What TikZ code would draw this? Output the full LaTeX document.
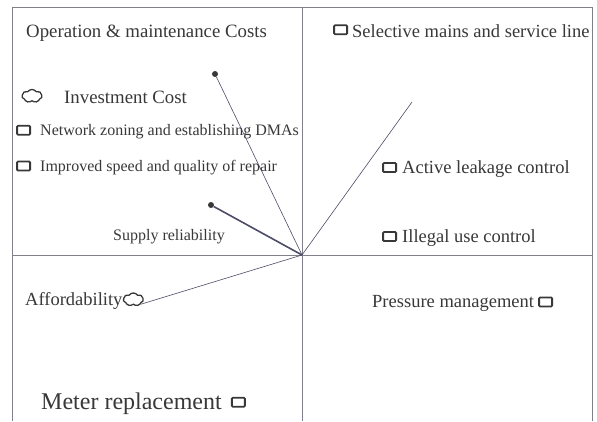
\documentclass[tikz,border=0pt]{standalone}
\usepackage{fontspec}
\setmainfont{Liberation Serif}
\usetikzlibrary{positioning,shapes.symbols}
\colorlet{txtcol}{black!78}
\colorlet{linecol}{blue!15!black!70}
\colorlet{framecol}{blue!10!black!50}
\tikzset{
  lbl/.style={anchor=base west,inner sep=0pt,text=txtcol},
  boxmark/.style={draw=txtcol,line width=1.8pt,rounded corners=1pt,
    minimum width=13pt,minimum height=9pt,inner sep=0pt},
  cloudmark/.style={cloud,cloud puffs=7,cloud puff arc=110,aspect=1.6,draw=txtcol,
    line width=1.3pt,minimum width=20pt,minimum height=13pt,inner sep=0pt},
  blob/.style={circle,fill=txtcol,inner sep=0pt,minimum size=6pt},
  spoke/.style={linecol,line width=0.6pt},
}

\begin{document}
\begin{tikzpicture}[x=1pt,y=-1pt]
  \useasboundingbox (0,0) rectangle (597,421);
  % frame and quadrants
  \draw[framecol,line width=0.7pt] (12,421) -- (12,7) -- (592,7) -- (592,421);
  \draw[framecol,line width=0.7pt] (302,7) -- (302,421);
  \draw[framecol,line width=0.7pt] (12,255) -- (592,255);
  \coordinate (o) at (302,255);

  % upper left
  \node[lbl,font=\fontsize{18.8}{18}\selectfont] (om) at (26,37) {Operation \& maintenance Costs};
  \node[lbl,font=\fontsize{18.8}{18}\selectfont] (inv) at (64,103) {Investment Cost};
  \node[cloudmark] (invc) at (32,96) {};
  \node[lbl,font=\fontsize{16}{16}\selectfont] (dma) at (40,135) {Network zoning and establishing DMAs};
  \node[boxmark,left=9pt of dma.west,yshift=1pt] (dmab) {};
  \node[lbl,font=\fontsize{16}{16}\selectfont] (rep) at (40,171) {Improved speed and quality of repair};
  \node[boxmark,left=9pt of rep.west,yshift=1pt] (repb) {};
  \node[lbl,font=\fontsize{16}{16}\selectfont] (sup) at (113,240) {Supply reliability};

  % upper right
  \node[lbl,font=\fontsize{18.5}{18}\selectfont] (sel) at (352,37) {Selective mains and service line};
  \node[boxmark,left=4pt of sel.west,yshift=1pt] (selb) {};
  \node[lbl,font=\fontsize{18.5}{18}\selectfont] (alc) at (402,173) {Active leakage control};
  \node[boxmark,left=5pt of alc.west,yshift=1pt] (alcb) {};
  \node[lbl,font=\fontsize{18.5}{18}\selectfont] (ill) at (402,242) {Illegal use control};
  \node[boxmark,left=5pt of ill.west,yshift=1pt] (illb) {};

  % lower half
  \node[lbl,font=\fontsize{18.5}{18}\selectfont] (aff) at (25,305) {Affordability};
  \node[cloudmark,right=0pt of aff.east,yshift=1pt] (affc) {};
  \node[lbl,font=\fontsize{18.5}{18}\selectfont] (pm) at (372,307) {Pressure management};
  \node[boxmark,right=4pt of pm.east,yshift=1pt] (pmb) {};
  \node[lbl,font=\fontsize{24}{24}\selectfont] (mr) at (41,409) {Meter replacement};
  \node[boxmark,right=9pt of mr.east,yshift=1pt] (mrb) {};

  % spokes
  \node[blob] (d1) at (215,74) {};
  \node[blob] (d2) at (211,205) {};
  \coordinate (e1) at (412,102);
  \draw[spoke] (o) -- (d1);
  \draw[spoke,line width=1.6pt] (o) -- (d2);
  \draw[spoke] (o) -- (e1);
  \draw[spoke] (o) -- (affc.south east);
\end{tikzpicture}
\end{document}
